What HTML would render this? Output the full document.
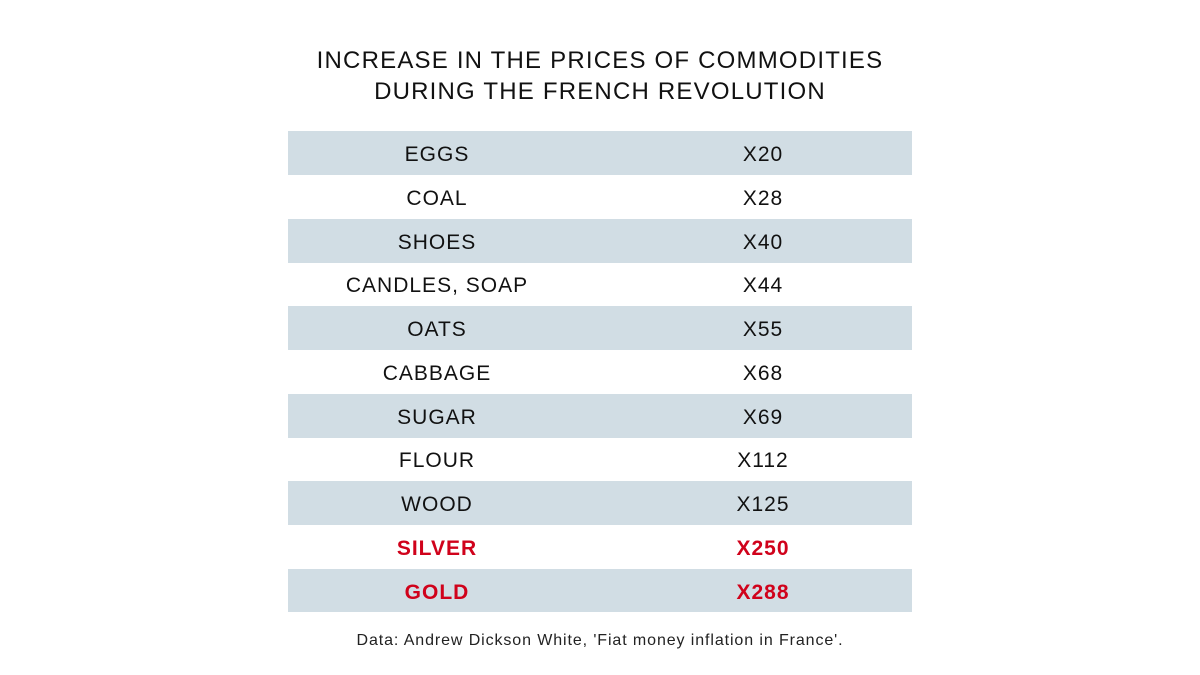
<!DOCTYPE html>
<html><head><meta charset="utf-8"><style>
body{margin:0;width:1200px;height:675px;background:#fff;font-family:"Liberation Sans",sans-serif;position:relative;overflow:hidden}
.t{position:absolute;left:0;width:1200px;text-align:center;font-size:24px;letter-spacing:1.2px;color:#111}
.r{position:absolute;left:288px;width:624px;height:44px}
.s{background:#d1dde4}
.c{position:absolute;top:2px;line-height:44px;font-size:21px;color:#111;text-align:center;width:300px;letter-spacing:1px}
.a{left:0;margin-left:-13px;width:324px}.b{left:325px}
.red .c{color:#d0021b;font-weight:bold}
.f{position:absolute;top:632px;left:0;width:1200px;text-align:center;font-size:16px;color:#222;letter-spacing:0.9px}
</style></head><body>
<div class="t" style="top:47px">INCREASE IN THE PRICES OF COMMODITIES</div>
<div class="t" style="top:78px">DURING THE FRENCH REVOLUTION</div>
<div class="r s" style="top:131px"><div class="c a">EGGS</div><div class="c b">X20</div></div>
<div class="r" style="top:175px"><div class="c a">COAL</div><div class="c b">X28</div></div>
<div class="r s" style="top:219px"><div class="c a">SHOES</div><div class="c b">X40</div></div>
<div class="r" style="top:262px"><div class="c a">CANDLES, SOAP</div><div class="c b">X44</div></div>
<div class="r s" style="top:306px"><div class="c a">OATS</div><div class="c b">X55</div></div>
<div class="r" style="top:350px"><div class="c a">CABBAGE</div><div class="c b">X68</div></div>
<div class="r s" style="top:394px"><div class="c a">SUGAR</div><div class="c b">X69</div></div>
<div class="r" style="top:437px"><div class="c a">FLOUR</div><div class="c b">X112</div></div>
<div class="r s" style="top:481px"><div class="c a">WOOD</div><div class="c b">X125</div></div>
<div class="r red" style="top:525px"><div class="c a">SILVER</div><div class="c b">X250</div></div>
<div class="r s red" style="top:569px;height:43px"><div class="c a">GOLD</div><div class="c b">X288</div></div>
<div class="f">Data: Andrew Dickson White, 'Fiat money inflation in France'.</div>
</body></html>
